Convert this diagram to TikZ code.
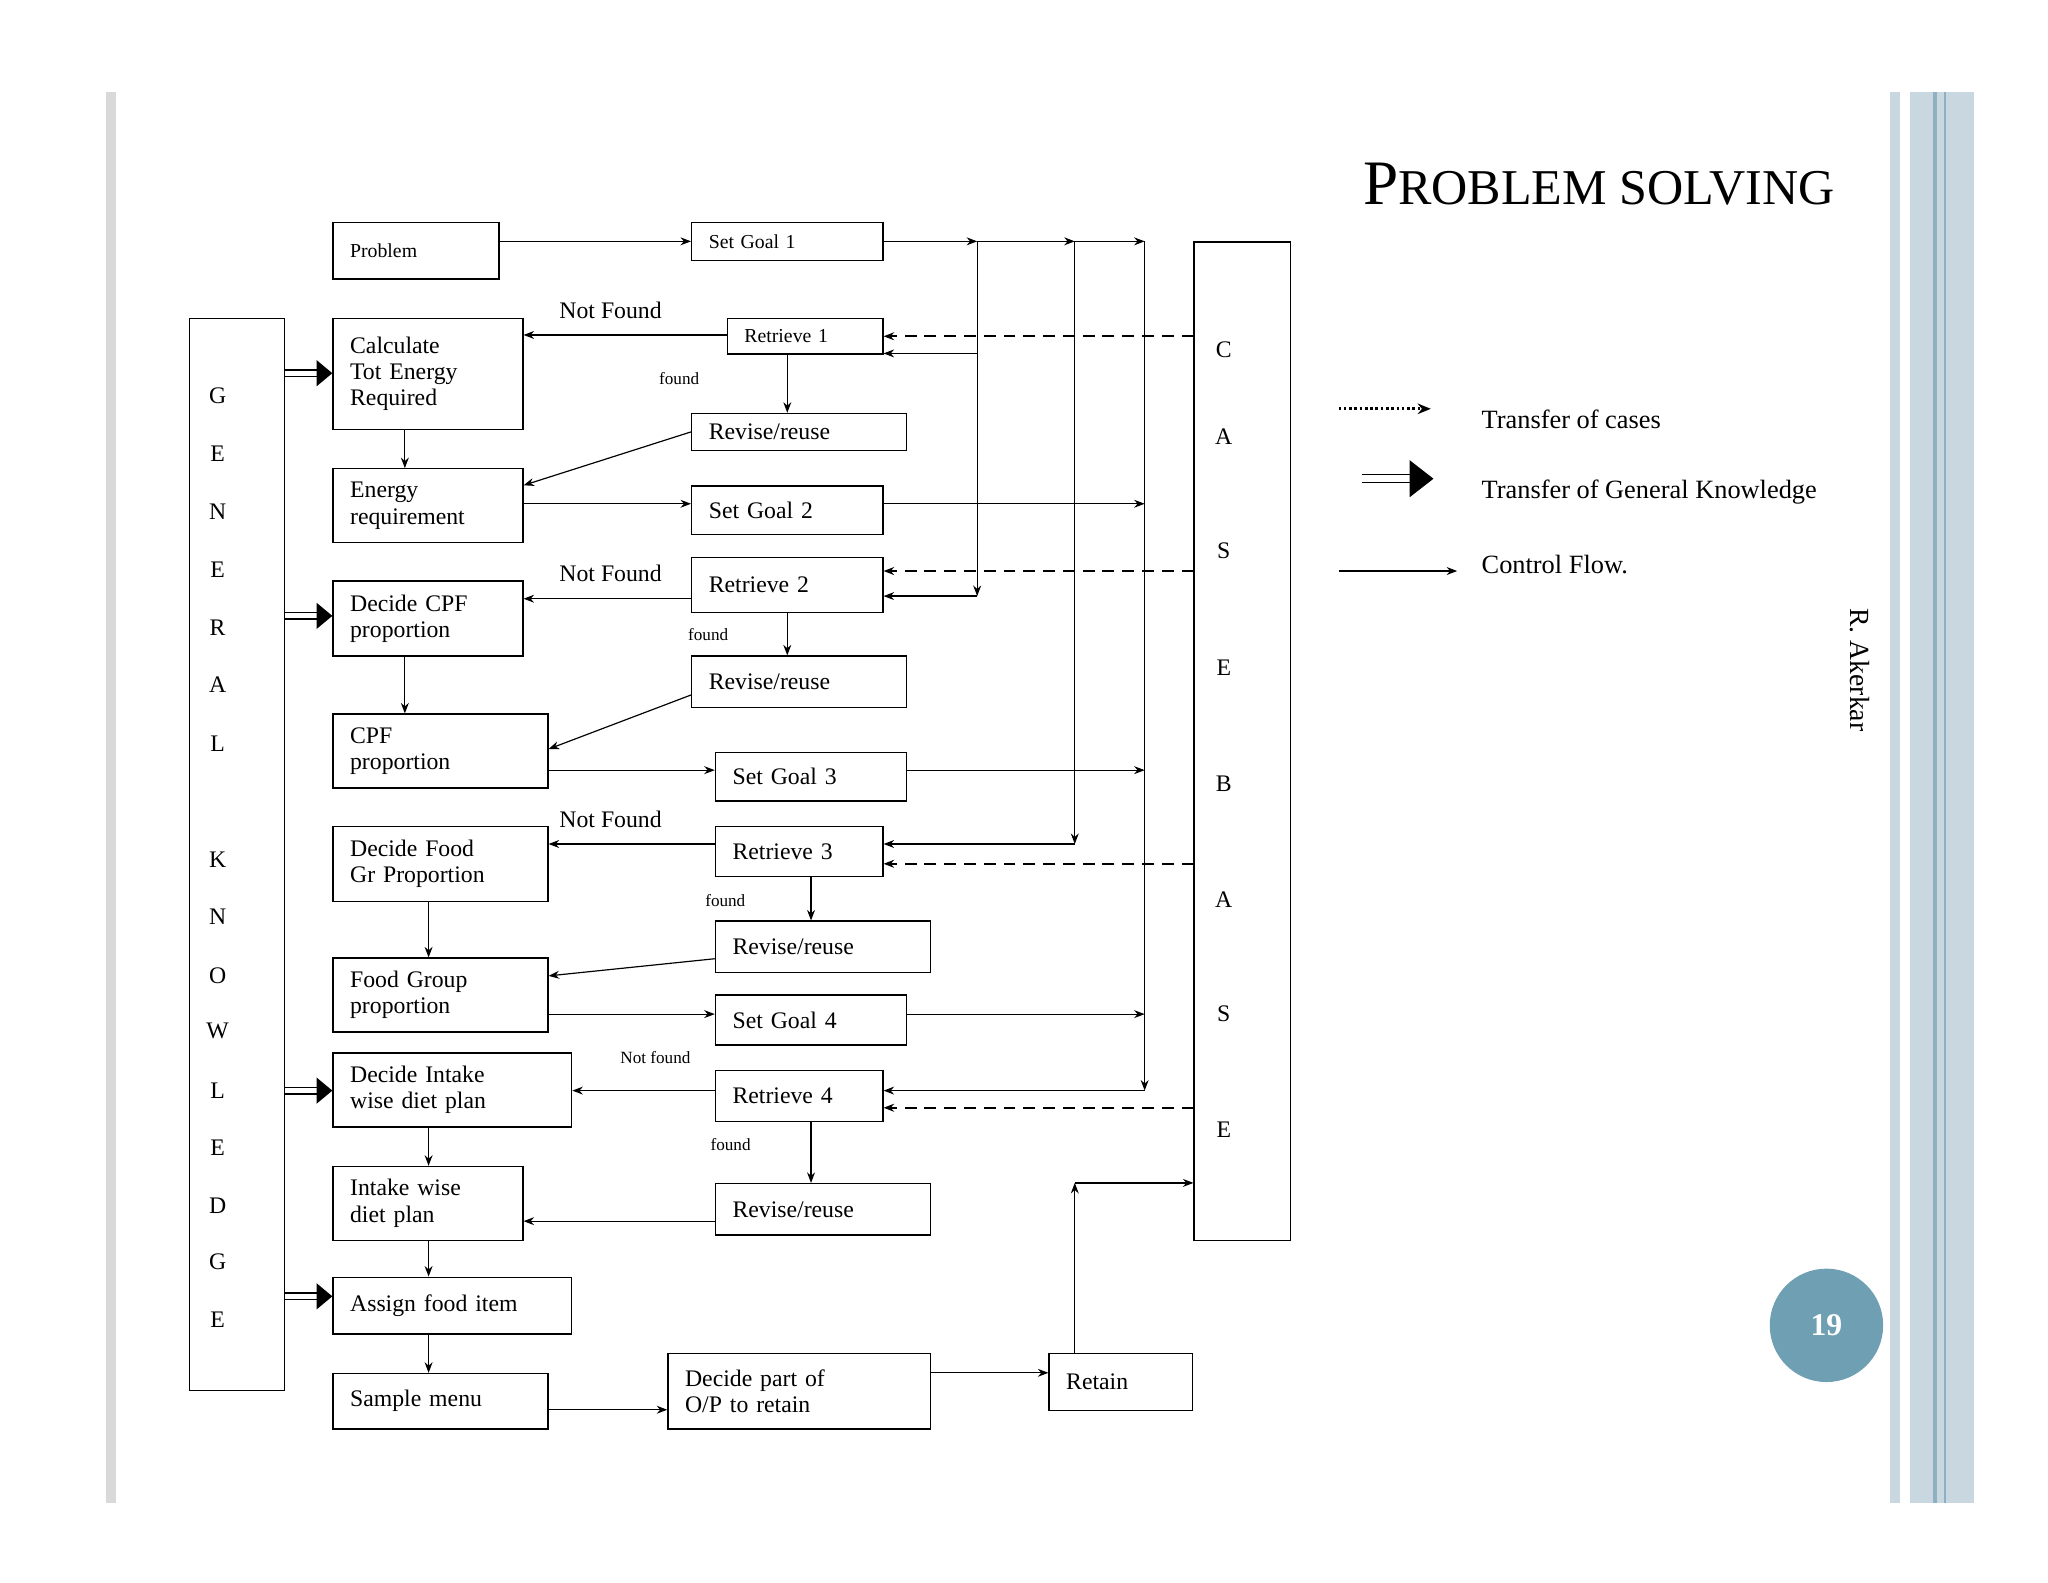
\documentclass[tikz,border=0pt]{standalone}
\usepackage{fontspec}
\setmainfont{Liberation Serif}
\usetikzlibrary{arrows.meta,calc}
\definecolor{barc}{HTML}{C9D8E0}
\definecolor{barl}{HTML}{8FB0C2}
\definecolor{circc}{HTML}{6F9FB3}
\begin{document}
\begin{tikzpicture}[x=1pt,y=-1pt,
 box/.style={draw,line width=1pt,anchor=north west,align=left,inner xsep=13pt,inner ysep=2pt,text width=#1-26pt,font=\fontsize{18}{20}\selectfont},
 sbox/.style={box=#1,font=\fontsize{15}{17}\selectfont},
 cf/.style={line width=0.9pt,-{Stealth[length=8pt,width=6pt]}},
 tc/.style={line width=1.6pt,dash pattern=on 9pt off 6pt,-{Stealth[length=8pt,width=6pt]}},
 lbl/.style={font=\fontsize{18}{20}\selectfont},
 leg/.style={font=\fontsize{20}{22}\selectfont,anchor=west},
 slbl/.style={font=\fontsize{13}{15}\selectfont}]
\useasboundingbox (0,0) rectangle (1553,1200);
\fill[white] (0,0) rectangle (1553,1200);
% slide decorations
\fill[gray!30] (80,70) rectangle (88,1140);
\fill[barc] (1433,70) rectangle (1441,1140);
\fill[barc] (1448,70) rectangle (1497,1140);
\fill[barl] (1466,70) rectangle (1469,1140);
\fill[barl] (1474,70) rectangle (1476,1140);
\node[anchor=east,font=\fontsize{48}{50}\selectfont] (title) at (1395,140) {P{\fontsize{38}{40}\selectfont ROBLEM SOLVING}};
\node[rotate=-90,font=\fontsize{21}{23}\selectfont] (auth) at (1410,508) {R. Akerkar};
\node[circle,fill=circc,minimum size=86pt,text=white,font=\bfseries\fontsize{24}{26}\selectfont] (num) at (1385,1005) {19};
% big boxes
\node[draw,line width=1pt,anchor=north west,minimum width=72pt,minimum height=813pt] (gk) at (143,241) {};
\foreach \l/\y in {G/300,E/344,N/388,E/432,R/476,A/519,L/564,K/652,N/695,O/740,W/782,L/827,E/870,D/914,G/957,E/1001}
  \node[lbl] at (165,\y) {\l};
\node[draw,line width=1pt,anchor=north west,minimum width=73pt,minimum height=757pt] (cb) at (905,183) {};
\foreach \l/\y in {C/265,A/331,S/418,E/506,B/594,A/682,S/769,E/857}
  \node[lbl] at (928,\y) {\l};
% left column
\node[sbox=126pt,minimum height=43pt] (prob) at (252,168) {Problem};
\node[box=144pt,minimum height=84pt] (calc) at (252,241) {Calculate\\Tot Energy\\Required};
\node[box=144pt,minimum height=56pt] (ereq) at (252,355) {Energy\\requirement};
\node[box=144pt,minimum height=57pt] (dcpf) at (252,440) {Decide CPF\\proportion};
\node[box=163pt,minimum height=56pt] (cpf) at (252,541) {CPF\\proportion};
\node[box=163pt,minimum height=57pt] (dfood) at (252,626) {Decide Food\\Gr Proportion};
\node[box=163pt,minimum height=56pt] (fgp) at (252,726) {Food Group\\proportion};
\node[box=181pt,minimum height=56pt] (dint) at (252,798) {Decide Intake\\wise diet plan};
\node[box=144pt,minimum height=56pt] (iwd) at (252,884) {Intake wise\\diet plan};
\node[box=181pt,minimum height=43pt] (afi) at (252,968) {Assign food item};
\node[box=163pt,minimum height=42pt] (smenu) at (252,1041) {Sample menu};
\node[box=199pt,minimum height=57pt] (dpart) at (506,1026) {Decide part of\\O/P to retain};
\node[box=109pt,minimum height=43pt] (ret) at (795,1026) {Retain};
% middle column
\node[sbox=145pt,minimum height=29pt] (sg1) at (524,168) {Set Goal 1};
\node[sbox=118pt,minimum height=27pt] (r1) at (551,241) {Retrieve 1};
\node[box=163pt,minimum height=28pt] (rv1) at (524,313) {Revise/reuse};
\node[box=145pt,minimum height=37pt] (sg2) at (524,368) {Set Goal 2};
\node[box=145pt,minimum height=42pt] (r2) at (524,422) {Retrieve 2};
\node[box=163pt,minimum height=39pt] (rv2) at (524,497) {Revise/reuse};
\node[box=145pt,minimum height=37pt] (sg3) at (542,570) {Set Goal 3};
\node[box=127pt,minimum height=38pt] (r3) at (542,626) {Retrieve 3};
\node[box=163pt,minimum height=39pt] (rv3) at (542,698) {Revise/reuse};
\node[box=145pt,minimum height=38pt] (sg4) at (542,754) {Set Goal 4};
\node[box=127pt,minimum height=39pt] (r4) at (542,811) {Retrieve 4};
\node[box=163pt,minimum height=39pt] (rv4) at (542,897) {Revise/reuse};
% control flow
\coordinate (j1) at (741,183); \coordinate (j2) at (815,183); \coordinate (j3) at (868,183);
\draw[cf] (prob.east|-sg1.west) -- (sg1.west);
\draw[cf] (sg1.east) -- (j1);
\draw[cf] (j1) -- (j2);
\draw[cf] (j2) -- (j3);
\draw[cf] (j1) -- (741,452);
\draw[cf] (741,268) -- (r1.east|-741,268);
\draw[cf] (741,452) -- (r2.east|-741,452);
\draw[cf] (j2) -- (815,640);
\draw[cf] (815,640) -- (r3.east|-815,640);
\draw[cf] (j3) -- (868,827);
\draw[cf] (868,827) -- (r4.east|-868,827);
% transfer of cases
\draw[tc] (cb.west|-r1.east) -- (r1.east);
\draw[tc] (cb.west|-0,433) -- (r2.east|-0,433);
\draw[tc] (cb.west|-0,655) -- (r3.east|-0,655);
\draw[tc] (cb.west|-0,840) -- (r4.east|-0,840);
% retrieve/revise
\draw[cf] (r1.west|-0,254) -- (calc.east|-0,254);
\node[lbl] at (463,235) {Not Found};
\draw[cf] (597,268) -- (597,313);
\node[slbl] at (515,287) {found};
\draw[cf] (rv1.west) -- (ereq.north east|-0,368);
\draw[cf] (calc.south-|307,0) -- (ereq.north-|307,0);
\draw[cf] (ereq.east|-0,382) -- (sg2.west|-0,382);
\draw[cf] (sg2.east|-0,382) -- (868,382);
\draw[cf] (r2.west|-0,454) -- (dcpf.east|-0,454);
\node[lbl] at (463,435) {Not Found};
\draw[cf] (r2.south-|597,0) -- (rv2.north-|597,0);
\node[slbl] at (537,481) {found};
\draw[cf] (rv2.north west|-0,527) -- (cpf.east|-0,568);
\draw[cf] (dcpf.south-|307,0) -- (cpf.north-|307,0);
\draw[cf] (cpf.east|-0,584) -- (sg3.west|-0,584);
\draw[cf] (sg3.east|-0,584) -- (868,584);
\draw[cf] (r3.west|-0,640) -- (dfood.east|-0,640);
\node[lbl] at (463,621) {Not Found};
\draw[cf] (r3.south-|615,0) -- (rv3.north-|615,0);
\node[slbl] at (550,683) {found};
\draw[cf] (rv3.west|-0,727) -- (fgp.east|-0,740);
\draw[cf] (dfood.south-|325,0) -- (fgp.north-|325,0);
\draw[cf] (fgp.east|-0,769) -- (sg4.west|-0,769);
\draw[cf] (sg4.east|-0,769) -- (868,769);
\draw[cf] (r4.west|-0,827) -- (dint.east|-0,827);
\node[slbl] at (497,802) {Not found};
\draw[cf] (r4.south-|615,0) -- (rv4.north-|615,0);
\node[slbl] at (554,868) {found};
\draw[cf] (rv4.west|-0,926) -- (iwd.east|-0,926);
\draw[cf] (dint.south-|325,0) -- (iwd.north-|325,0);
\draw[cf] (iwd.south-|325,0) -- (afi.north-|325,0);
\draw[cf] (afi.south-|325,0) -- (smenu.north-|325,0);
\draw[cf] (smenu.east|-0,1069) -- (dpart.west|-0,1069);
\draw[cf] (dpart.east|-0,1041) -- (ret.west|-0,1041);
\coordinate (rk) at (815,897);
\draw[cf] (ret.north-|rk) -- (rk);
\draw[cf] (rk) -- (cb.west|-rk);
% general knowledge transfers
\foreach \y/\n in {283/calc,467/dcpf,827/dint,983/afi}{
  \draw[line width=1pt] (gk.east|-0,\y-2.5) -- (241,\y-2.5) (gk.east|-0,\y+2.5) -- (241,\y+2.5);
  \fill (\n.west|-0,\y) -- ++(-12,-10) -- ++(0,20) -- cycle;
}
% legend
\draw[line width=2pt,dotted,-{Stealth[length=10pt,width=8pt]}] (1015,310) -- (1085,310);
\node[leg] at (1120,318) {Transfer of cases};
\draw[line width=1pt] (1033,360) -- (1072,360) (1033,366) -- (1072,366);
\fill (1087,363) -- ++(-18,-14) -- ++(0,28) -- cycle;
\node[leg] at (1120,373) {Transfer of General Knowledge};
\draw[cf] (1015,433) -- (1105,433);
\node[leg] at (1120,428) {Control Flow.};
\end{tikzpicture}
\end{document}
